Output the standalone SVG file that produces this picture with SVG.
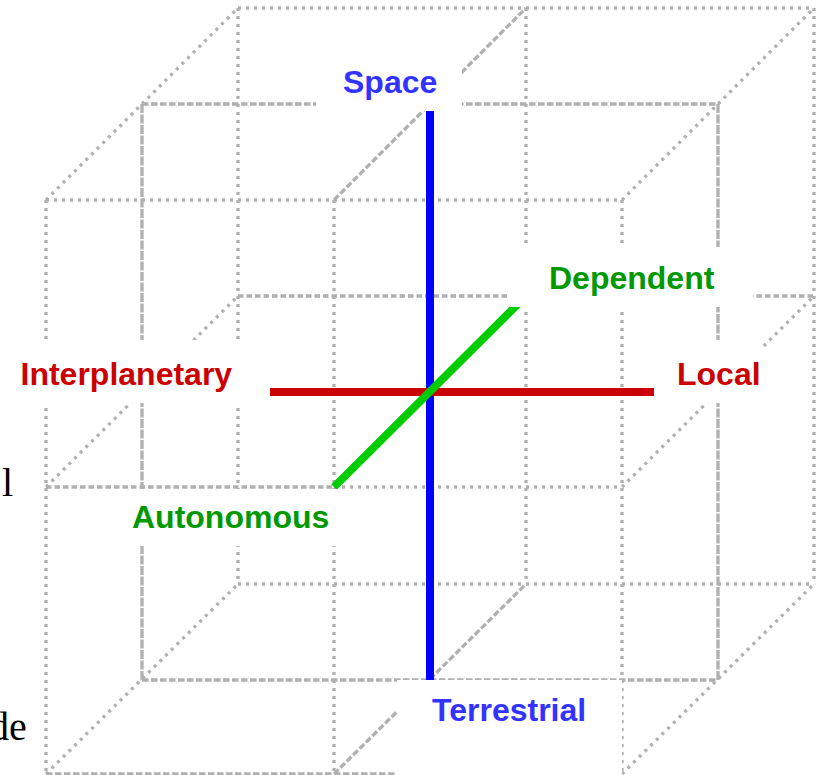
<svg xmlns="http://www.w3.org/2000/svg" width="823" height="775" viewBox="0 0 823 775">
<style>
.g{stroke:#b0b0b0;stroke-width:3.3;fill:none}
.dot{stroke-dasharray:3 5}
.dash{stroke-dasharray:6.5 2.5}
.dense{stroke-dasharray:9 1.5}
.med{stroke-dasharray:5.5 3}
.box{fill:#ffffff;stroke:none}
.lbl{font-family:"Liberation Sans",Arial,sans-serif;font-weight:bold;font-size:32px}
.frag{font-family:"Liberation Serif","Times New Roman",serif;fill:#000000}
</style>
<rect width="823" height="775" fill="#ffffff"/>
<g id="fragments">
<text class="frag" x="-17" y="385" font-size="40">f</text>
<text class="frag" x="13" y="496" font-size="40" text-anchor="end">l</text>
<text class="frag" x="-11" y="740" font-size="40">de</text>
</g>
<g id="connectors">
<g id="grid" class="g">
<line class="dot" x1="46" y1="200" x2="622" y2="200"/>
<line class="dash" x1="142" y1="104" x2="718" y2="104"/>
<line class="dot" x1="238" y1="8" x2="814" y2="8"/>
<line class="med" x1="46" y1="487" x2="334" y2="487"/>
<line class="dot" x1="334" y1="487" x2="622" y2="487"/>
<line class="med" x1="238" y1="296" x2="814" y2="296"/>
<line class="dash" x1="46" y1="774" x2="622" y2="774"/>
<line class="dash" x1="142" y1="680" x2="718" y2="680"/>
<line class="dot" x1="238" y1="584" x2="814" y2="584"/>
<line class="dot" x1="46" y1="200" x2="46" y2="774"/>
<line class="dense" x1="142" y1="104" x2="142" y2="680"/>
<line class="dot" x1="238" y1="8" x2="238" y2="584"/>
<line class="dot" x1="334" y1="200" x2="334" y2="774"/>
<line class="dot" x1="526" y1="8" x2="526" y2="584"/>
<line class="dot" x1="622" y1="200" x2="622" y2="774"/>
<line class="dense" x1="718" y1="104" x2="718" y2="680"/>
<line class="dot" x1="814" y1="8" x2="814" y2="584"/>
<line class="dot" x1="46" y1="200" x2="238" y2="8"/>
<line class="dash" x1="334" y1="200" x2="526" y2="8"/>
<line class="dot" x1="622" y1="200" x2="814" y2="8"/>
<line class="dot" x1="46" y1="487" x2="238" y2="296"/>
<line class="dot" x1="622" y1="487" x2="814" y2="296"/>
<line class="dot" x1="46" y1="774" x2="238" y2="584"/>
<line class="dash" x1="334" y1="774" x2="526" y2="584"/>
<line class="dot" x1="622" y1="774" x2="814" y2="584"/>
</g>
<g id="axes" fill="none" stroke-width="8">
<line id="axis-space" x1="430" y1="104" x2="430" y2="680" stroke="#0000ff"/>
<line id="axis-range" x1="270" y1="392" x2="654" y2="392" stroke="#cc0000"/>
<line id="axis-autonomy" x1="334" y1="487" x2="526" y2="296" stroke="#00cc00"/>
</g>
</g>
<g id="label-space">
<rect class="box" x="316" y="48" width="146" height="63"/>
<text class="lbl" x="343" y="93" fill="#3333ff">Space</text>
</g>
<g id="label-interplanetary">
<rect class="box" x="6" y="340" width="252" height="63"/>
<text class="lbl" x="20.5" y="385" fill="#cc0000">Interplanetary</text>
</g>
<g id="label-local">
<rect class="box" x="656" y="340" width="106" height="63"/>
<text class="lbl" x="677" y="385" fill="#cc0000">Local</text>
</g>
<g id="label-dependent">
<rect class="box" x="510" y="247" width="243" height="60"/>
<text class="lbl" x="549" y="289" fill="#009900">Dependent</text>
</g>
<g id="label-autonomous">
<rect class="box" x="100" y="489" width="260" height="57"/>
<text class="lbl" x="132" y="528" fill="#009900">Autonomous</text>
</g>
<g id="label-terrestrial">
<rect class="box" x="397" y="680" width="225" height="95"/>
<text class="lbl" x="432" y="721" fill="#3333ff">Terrestrial</text>
</g>
</svg>
